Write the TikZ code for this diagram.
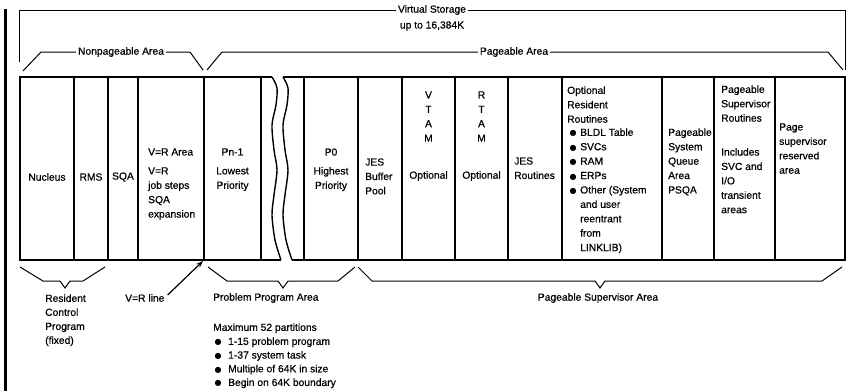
\documentclass[tikz,border=0pt]{standalone}
\usepackage{fontspec}
\setmainfont{Liberation Sans}[FakeBold=0.6]
\newfontfamily\symf{DejaVu Sans}
\usetikzlibrary{arrows.meta}
\newcommand\bulA{\llap{{\symf\fontsize{8}{8}\selectfont ●}\hspace{3.5pt}}}
\newcommand\bulB{\llap{{\symf\fontsize{8}{8}\selectfont ●}\hspace{6.5pt}}}
\begin{document}
\begin{tikzpicture}[x=1pt,y=-1pt,
  txt/.style={inner sep=0pt, font=\fontsize{10.3}{14.4}\selectfont},
  lbl/.style={txt, fill=white, inner xsep=2pt, inner ysep=1pt},
  ml/.style={txt, align=left, anchor=north west},
  mc/.style={txt, align=center, anchor=north},
  boxline/.style={line width=1.4pt},
  brace/.style={line width=1pt, line join=miter},
]
\useasboundingbox (0,0) rectangle (847,391);

% thick left bar
\draw[line width=3pt] (5,9) -- (5,391);

% top brace: Virtual Storage
\draw[brace] (19,62) -- (19,10) -- (845,10) -- (845,70);
\node[lbl] (vs) at (432,10) {Virtual Storage};
\node[txt] (vs2) at (432,26) {up to 16,384K};

% Nonpageable / Pageable braces
\draw[brace] (23,71) -- (41,52) -- (190,52) -- (203,70);
\node[lbl] (np) at (121,52) {Nonpageable Area};
\draw[brace] (207,70) -- (222,52) -- (828,52) -- (843,70);
\node[lbl] (pa) at (514,52) {Pageable Area};

% main box
\draw[boxline] (272,77) -- (20,77) -- (20,260) -- (281,260);
\draw[boxline] (283,77) -- (845,77) -- (845,260) -- (292,260);
\foreach \x in {74,108,138,204,261,304,358,402,455,508,562,662,714,775}
  \draw[boxline] (\x,77) -- (\x,260);
% wavy break
\draw[boxline] plot[smooth] coordinates {(272,77) (277,88) (276,105) (272,125) (274,150) (277,170) (274,195) (272,215) (275,240) (281,260)};
\draw[boxline] plot[smooth] coordinates {(283,77) (288,88) (287,105) (283,125) (285,150) (288,170) (285,195) (283,215) (286,240) (292,260)};

% column texts
\node[txt] (nuc) at (47,177) {Nucleus};
\node[txt] (rms) at (91,177) {RMS};
\node[txt] (sqa) at (123,177) {SQA};
\node[ml] (vra) at (148,148.2) {V=R Area\\[4.5pt]V=R\\job steps\\SQA\\expansion};
\node[mc] (pn) at (232.5,148.2) {Pn-1\\[4.5pt]Lowest\\Priority};
\node[mc] (p0) at (331,148.2) {P0\\[4.5pt]Highest\\Priority};
\node[ml] (jbp) at (365,158.2) {JES\\Buffer\\Pool};
\node[mc] (vtam) at (428.5,91.2) {V\\T\\A\\M};
\node[txt] (vopt) at (428.5,176) {Optional};
\node[mc] (rtam) at (481.5,91.2) {R\\T\\A\\M};
\node[txt] (ropt) at (481.5,176) {Optional};
\node[ml] (jr) at (514,157.2) {JES\\Routines};
\node[ml] (orr) at (567,86.2) {Optional\\Resident\\Routines};
\node[ml] (orrl) at (580,128.2) {\bulA BLDL Table\\\bulA SVCs\\\bulA RAM\\\bulA ERPs\\\bulA Other (System\\and user\\reentrant\\from\\LINKLIB)};
\node[ml] (psqa) at (668,128.2) {Pageable\\System\\Queue\\Area\\PSQA};
\node[ml] (psr) at (721,85.2) {Pageable\\Supervisor\\Routines\\[19.5pt]Includes\\SVC and\\I/O\\transient\\areas};
\node[ml] (psra) at (779,123.2) {Page\\supervisor\\reserved\\area};

% bottom braces
\draw[brace] (20,267) -- (43,281) -- (60,281) -- (65,288) -- (70,281) -- (83,281) -- (105,267);
\draw[brace] (208,267) -- (227,281) -- (278,281) -- (283,288) -- (288,281) -- (338,281) -- (355,267);
\draw[brace] (358,267) -- (372,281) -- (595,281) -- (600,288) -- (605,281) -- (822,281) -- (842,267);

% bottom texts
\node[ml, font=\fontsize{10.3}{14}\selectfont] (rcp) at (45,294.2) {Resident\\Control\\Program\\(fixed)};
\node[txt, anchor=west] (vrl) at (125,298) {V=R line};
\coordinate (vrtip) at (203,261);
\draw[line width=1.2pt, -{Stealth[length=7pt,width=5pt]}] ([shift={(3,1)}]vrl.north east) -- (vrtip);
\node[txt, anchor=west] (ppa) at (213,298) {Problem Program Area};
\node[ml] (max) at (213,323.2) {Maximum 52 partitions};
\node[ml, font=\fontsize{10.3}{13.7}\selectfont] (maxl) at (228,337.2) {\bulB 1-15 problem program\\\bulB 1-37 system task\\\bulB Multiple of 64K in size\\\bulB Begin on 64K boundary};
\node[txt] (psa) at (598,298) {Pageable Supervisor Area};
\end{tikzpicture}
\end{document}
